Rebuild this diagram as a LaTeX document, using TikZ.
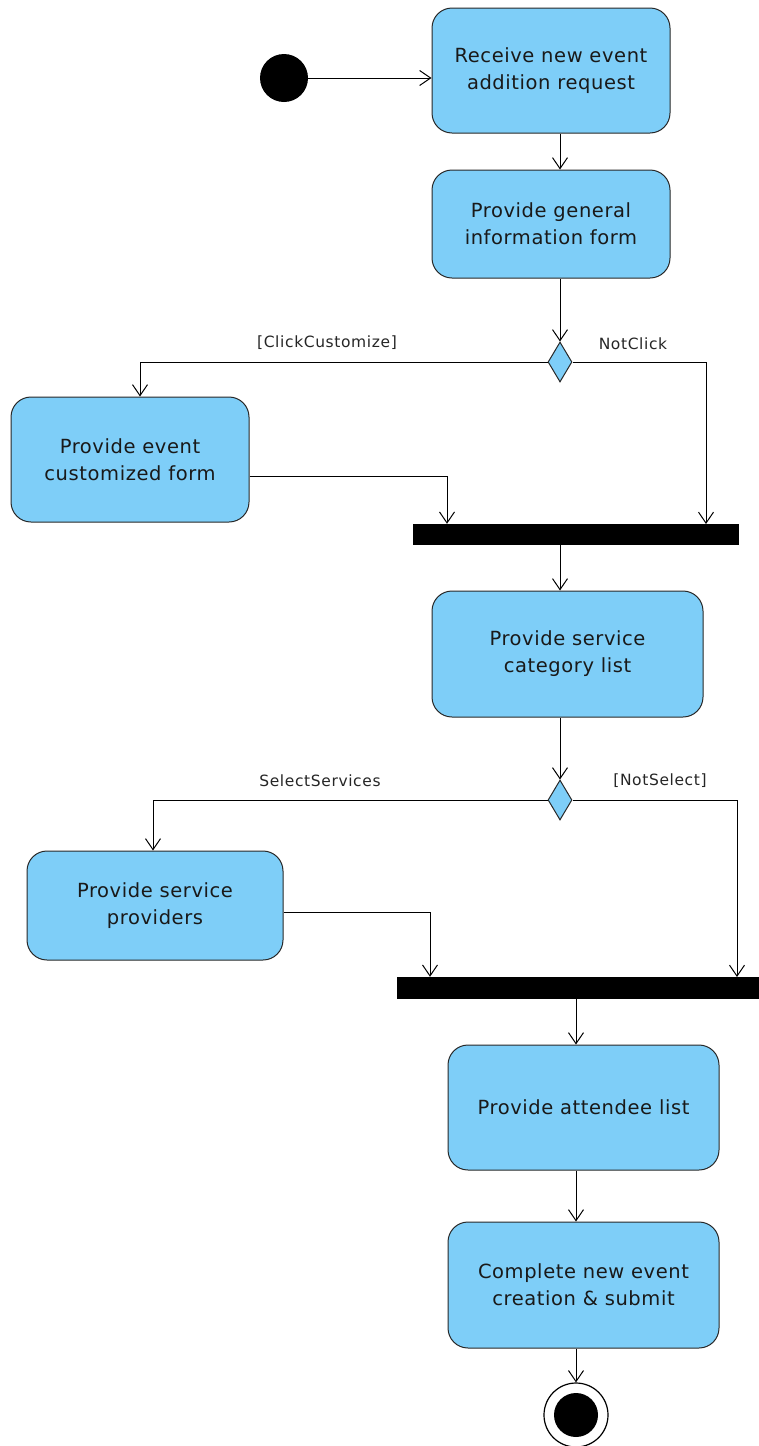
\documentclass[tikz,border=0pt]{standalone}
\usepackage{fontspec}
\setmainfont{DejaVu Sans}
\usetikzlibrary{arrows.meta,shapes.geometric,calc}
\definecolor{actfill}{RGB}{126,206,248}
\definecolor{edge}{RGB}{40,40,40}
\tikzset{
  action/.style={draw=edge, line width=1pt, fill=actfill, rounded corners=20pt,
    align=center, inner sep=0pt, text=black!90,
    font=\fontsize{19.5}{27}\selectfont\addfontfeatures{LetterSpace=3}},
  decision/.style={draw=edge, line width=1pt, fill=actfill, diamond, inner sep=0pt,
    minimum width=24pt, minimum height=40pt},
  forkbar/.style={fill=black, draw=black, inner sep=0pt},
  flow/.style={draw=black, line width=1pt, -{Straight Barb[length=11pt,width=15pt,line width=1pt]}},
  guard/.style={font=\fontsize{15.5}{18}\selectfont\addfontfeatures{LetterSpace=4}, text=black!85}
}
\begin{document}
\begin{tikzpicture}[x=1pt,y=-1pt]
\useasboundingbox (0,0) rectangle (758,1446);

% initial node
\node[circle, fill=black, minimum size=48pt, inner sep=0pt] (start) at (284,78) {};

% actions
\node[action, minimum width=238pt, minimum height=125pt] (receive) at (551,70.5) {Receive new event\\addition request};
\node[action, minimum width=238pt, minimum height=108pt] (general) at (551,224) {Provide general\\information form};
\node[action, minimum width=238pt, minimum height=125pt] (custom) at (130,459.5) {Provide event\\customized form};
\node[action, minimum width=271pt, minimum height=126pt] (category) at (567.5,654) {Provide service\\category list};
\node[action, minimum width=256pt, minimum height=109pt] (providers) at (155,905.5) {Provide service\\providers};
\node[action, minimum width=271pt, minimum height=125pt] (attendee) at (583.5,1107.5) {Provide attendee list};
\node[action, minimum width=271pt, minimum height=126pt] (complete) at (583.5,1285) {Complete new event\\creation \& submit};

% decisions
\node[decision] (d1) at (560,362) {};
\node[decision] (d2) at (560,800) {};

% join bars
\node[forkbar, minimum width=325pt, minimum height=20pt] (bar1) at (575.5,534) {};
\node[forkbar, minimum width=361pt, minimum height=21pt] (bar2) at (577.5,987.5) {};

% final node
\node[circle, draw=black, line width=1.2pt, minimum size=64pt, inner sep=0pt] (final) at (576,1415) {};
\node[circle, fill=black, minimum size=44pt, inner sep=0pt] at (final) {};

% bend and landing points
\coordinate (c1) at (140,362);
\coordinate (j1r) at (706,524);
\coordinate (c3) at (447,476);
\coordinate (c2) at (153,800);
\coordinate (j2r) at (737,977);
\coordinate (c5) at (430,912);

% flows
\draw[flow] (start) -- (receive.west |- start);
\draw[flow] (receive.south -| d1) -- (general.north -| d1);
\draw[flow] (general.south -| d1) -- (d1.north);
\draw[flow] (d1.west) -- (c1) -- (custom.north -| c1);
\draw[flow] (d1.east) -| (j1r);
\draw[flow] (custom.east |- c3) -- (c3) -- (bar1.north -| c3);
\draw[flow] (bar1.south -| d1) -- (category.north -| d1);
\draw[flow] (category.south -| d2) -- (d2.north);
\draw[flow] (d2.west) -- (c2) -- (providers.north -| c2);
\draw[flow] (d2.east) -| (j2r);
\draw[flow] (providers.east |- c5) -- (c5) -- (bar2.north -| c5);
\draw[flow] (bar2.south -| final) -- (attendee.north -| final);
\draw[flow] (attendee.south -| final) -- (complete.north -| final);
\draw[flow] (complete.south -| final) -- (final.north);

% guards
\node[guard] at (327,343) {[ClickCustomize]};
\node[guard] at (633,344) {NotClick};
\node[guard] at (320,781) {SelectServices};
\node[guard] at (660,781) {[NotSelect]};
\end{tikzpicture}
\end{document}
